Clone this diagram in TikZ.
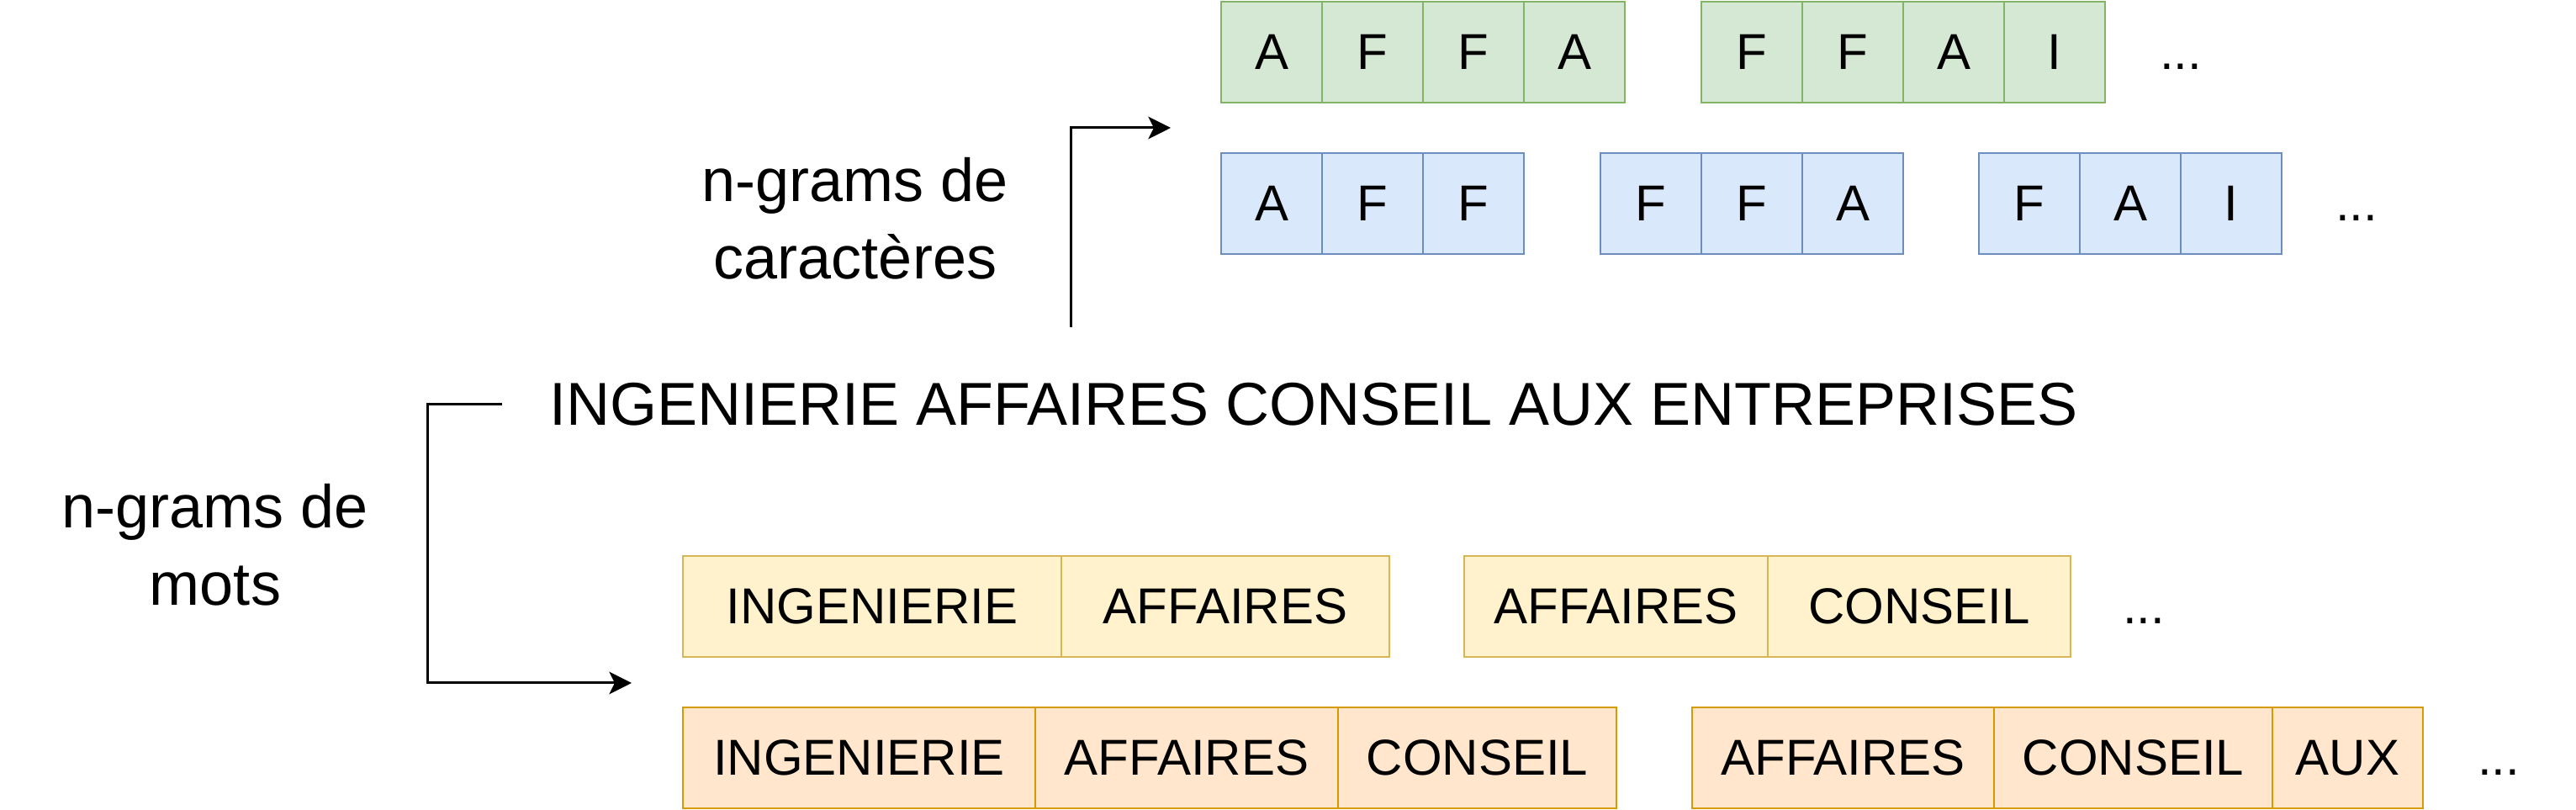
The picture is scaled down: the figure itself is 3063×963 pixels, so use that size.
\documentclass[tikz,border=0pt]{standalone}
\usepackage{fontspec}
\setmainfont{Liberation Sans}
\usetikzlibrary{positioning,arrows.meta}
\definecolor{greenfill}{HTML}{D5E8D4}
\definecolor{greenline}{HTML}{82B366}
\definecolor{bluefill}{HTML}{DAE8FC}
\definecolor{blueline}{HTML}{6C8EBF}
\definecolor{yellowfill}{HTML}{FFF2CC}
\definecolor{yellowline}{HTML}{D6B656}
\definecolor{orangefill}{HTML}{FFE6CC}
\definecolor{orangeline}{HTML}{D79B00}
\begin{document}
\begin{tikzpicture}[x=0.3pt,y=-0.3pt,
  cell/.style={draw,line width=0.7pt,outer sep=0pt,inner sep=0pt,minimum height=36pt,font=\fontsize{18}{21.6}\selectfont},
  gcell/.style={cell,fill=greenfill,draw=greenline,minimum width=36pt},
  bcell/.style={cell,fill=bluefill,draw=blueline,minimum width=36pt},
  ycell/.style={cell,fill=yellowfill,draw=yellowline},
  ocell/.style={cell,fill=orangefill,draw=orangeline},
  dots/.style={font=\fontsize{18}{21.6}\selectfont},
  big/.style={font=\fontsize{21.6}{27.6}\selectfont},
  arr/.style={line width=0.9pt,-{Stealth[length=8pt,width=8pt,inset=2pt]}}]
\useasboundingbox (0,0) rectangle (3063,963);

% n-grams de caracteres
\node[gcell,anchor=west] (ga1) at (1452,62) {A};
\node[gcell,right=0pt of ga1] (ga2) {F};
\node[gcell,right=0pt of ga2] (ga3) {F};
\node[gcell,right=0pt of ga3] (ga4) {A};
\node[gcell,anchor=west] (gb1) at (2023,62) {F};
\node[gcell,right=0pt of gb1] (gb2) {F};
\node[gcell,right=0pt of gb2] (gb3) {A};
\node[gcell,right=0pt of gb3] (gb4) {I};
\node[dots] (gdots) at (2593,62) {\vphantom{A}...};

\node[bcell,anchor=west] (ba1) at (1452,242) {A};
\node[bcell,right=0pt of ba1] (ba2) {F};
\node[bcell,right=0pt of ba2] (ba3) {F};
\node[bcell,anchor=west] (bb1) at (1903,242) {F};
\node[bcell,right=0pt of bb1] (bb2) {F};
\node[bcell,right=0pt of bb2] (bb3) {A};
\node[bcell,anchor=west] (bc1) at (2353,242) {F};
\node[bcell,right=0pt of bc1] (bc2) {A};
\node[bcell,right=0pt of bc2] (bc3) {I};
\node[dots] (bdots) at (2802,242) {\vphantom{A}...};

% phrase
\node[big,inner xsep=16.8pt,minimum height=54.6pt] (phrase) at (1562,481) {INGENIERIE AFFAIRES CONSEIL AUX ENTREPRISES};

\node[big,align=center] (charlabel) at (1017,260) {n-grams de\\caractères};
\node[big,align=center] (motlabel) at (256,648) {n-grams de\\mots};

\coordinate (charbend) at (1273,152);
\coordinate (charend) at (1392,152);
\coordinate (motend) at (751,812);
\draw[arr] (phrase.north -| charbend) -- (charbend) -- (charend);
\draw[arr] (phrase.west) -- ++(-89,0) |- (motend);

% n-grams de mots
\node[ycell,minimum width=135pt,anchor=west] (ya1) at (812,721) {INGENIERIE};
\node[ycell,minimum width=117pt,right=0pt of ya1] (ya2) {AFFAIRES};
\node[ycell,minimum width=108.3pt,anchor=west] (yb1) at (1741,721) {AFFAIRES};
\node[ycell,minimum width=108pt,right=0pt of yb1] (yb2) {CONSEIL};
\node[dots] (ydots) at (2549,721) {\vphantom{A}...};

\node[ocell,minimum width=125.7pt,anchor=west] (oa1) at (812,901) {INGENIERIE};
\node[ocell,minimum width=108pt,right=0pt of oa1] (oa2) {AFFAIRES};
\node[ocell,minimum width=99.3pt,right=0pt of oa2] (oa3) {CONSEIL};
\node[ocell,minimum width=107.7pt,anchor=west] (ob1) at (2012,901) {AFFAIRES};
\node[ocell,minimum width=99.3pt,right=0pt of ob1] (ob2) {CONSEIL};
\node[ocell,minimum width=53.7pt,right=0pt of ob2] (ob3) {AUX};
\node[dots] (odots) at (2971,901) {\vphantom{A}...};
\end{tikzpicture}
\end{document}
